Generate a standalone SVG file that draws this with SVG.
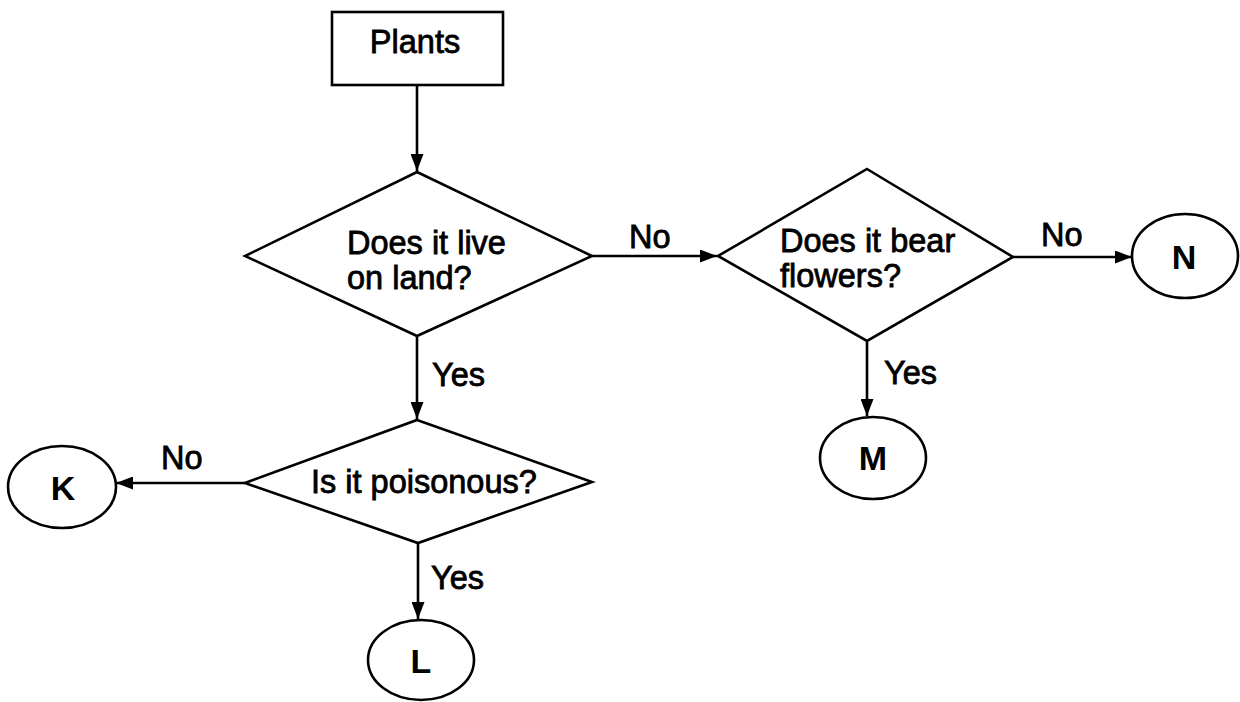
<svg xmlns="http://www.w3.org/2000/svg" width="1240" height="702" viewBox="0 0 1240 702">
  <style>
    .shape { fill: #ffffff; stroke: #000000; stroke-width: 2.6; stroke-linejoin: miter; }
    .edge { fill: none; stroke: #000000; stroke-width: 2.6; }
    .txt { font-family: "Liberation Sans", Arial, sans-serif; font-size: 32.5px; fill: #000000; stroke: #000000; stroke-width: 0.8; }
    .lbl { font-family: "Liberation Sans", Arial, sans-serif; font-size: 34px; font-weight: bold; fill: #000000; text-anchor: middle; }
  </style>
  <defs>
    <marker id="arrow" viewBox="0 0 17 13" refX="17" refY="6.5" markerWidth="17" markerHeight="13" markerUnits="userSpaceOnUse" orient="auto">
      <path d="M0,0 L17,6.5 L0,13 Z" fill="#000000"/>
    </marker>
  </defs>
  <rect width="1240" height="702" fill="#ffffff"/>

  <g id="connectors">
    <line class="edge" x1="417" y1="85" x2="417" y2="171" marker-end="url(#arrow)"/>
    <line class="edge" x1="592" y1="256" x2="717" y2="256" marker-end="url(#arrow)"/>
    <line class="edge" x1="1013" y1="257" x2="1132" y2="257" marker-end="url(#arrow)"/>
    <line class="edge" x1="867" y1="341" x2="867" y2="416" marker-end="url(#arrow)"/>
    <line class="edge" x1="417" y1="336" x2="417" y2="419" marker-end="url(#arrow)"/>
    <line class="edge" x1="245" y1="483" x2="116" y2="483" marker-end="url(#arrow)"/>
    <line class="edge" x1="418" y1="543" x2="418" y2="619" marker-end="url(#arrow)"/>
    <text class="txt" x="629" y="248">No</text>
    <text class="txt" x="1041" y="246">No</text>
    <text class="txt" x="884" y="384">Yes</text>
    <text class="txt" x="432" y="386">Yes</text>
    <text class="txt" x="161" y="469">No</text>
    <text class="txt" x="431" y="589">Yes</text>
  </g>

  <g id="plants">
    <rect class="shape" x="332" y="12" width="171" height="73"/>
    <text class="txt" x="415" y="53" text-anchor="middle">Plants</text>
  </g>

  <g id="q-land">
    <polygon class="shape" points="417,172 592,256 417,336 245,256"/>
    <text class="txt" x="347" y="254">Does it live</text>
    <text class="txt" x="347" y="289">on land?</text>
  </g>

  <g id="q-flowers">
    <polygon class="shape" points="867,169 1013,257 867,341 718,256"/>
    <text class="txt" x="780" y="252">Does it bear</text>
    <text class="txt" x="780" y="287">flowers?</text>
  </g>

  <g id="q-poison">
    <polygon class="shape" points="417,420 592,482 418,543 245,483"/>
    <text class="txt" x="311" y="493">Is it poisonous?</text>
  </g>

  <g id="node-n">
    <ellipse class="shape" cx="1185" cy="256" rx="53" ry="42"/>
    <text class="lbl" x="1184" y="269">N</text>
  </g>

  <g id="node-m">
    <ellipse class="shape" cx="873" cy="458" rx="53" ry="41"/>
    <text class="lbl" x="873" y="470">M</text>
  </g>

  <g id="node-k">
    <ellipse class="shape" cx="62" cy="487" rx="54" ry="41"/>
    <text class="lbl" x="63" y="500">K</text>
  </g>

  <g id="node-l">
    <ellipse class="shape" cx="421" cy="660" rx="53" ry="40"/>
    <text class="lbl" x="421" y="673">L</text>
  </g>
</svg>
